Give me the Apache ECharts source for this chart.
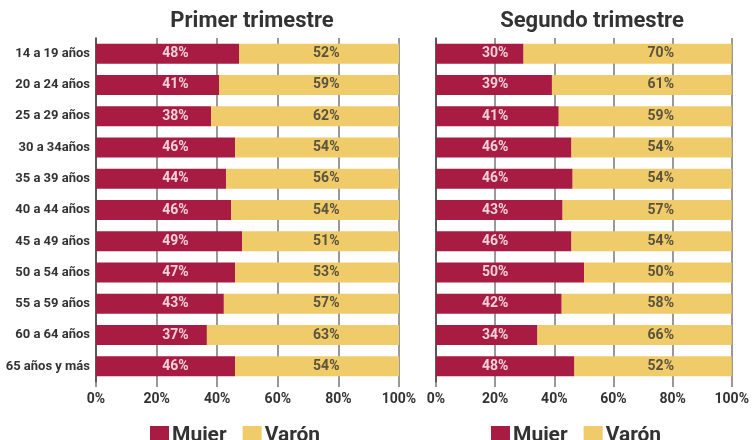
<!DOCTYPE html>
<html><head><meta charset="utf-8">
<script src="https://cdn.jsdelivr.net/npm/echarts@6/dist/echarts.min.js"></script>
<style>html,body{margin:0;padding:0;background:#fff}#c{width:752px;height:440px}</style>
</head><body><div id="c"></div>
<script>
const categories = ['14 a 19 años','20 a 24 años','25 a 29 años','30 a 34años','35 a 39 años','40 a 44 años','45 a 49 años','50 a 54 años','55 a 59 años','60 a 64 años','65 años y más'];
const panelTitles = ['Primer trimestre','Segundo trimestre'];
const seriesNames = ['Mujer','Varón'];
// bar lengths (%)
const mujerQ1 = [47.2,40.6,38.0,45.9,42.9,44.6,48.2,45.9,42.2,36.6,45.9];
const varonQ1 = [52.8,59.4,62.0,54.1,57.1,55.4,51.8,54.1,57.8,63.4,54.1];
const mujerQ2 = [29.6,39.2,41.5,45.8,46.2,42.8,45.8,50.1,42.5,34.3,46.8];
const varonQ2 = [70.4,60.8,58.5,54.2,53.8,57.2,54.2,49.9,57.5,65.7,53.2];
// printed labels (%)
const mujerQ1Lbl = [48,41,38,46,44,46,49,47,43,37,46];
const varonQ1Lbl = [52,59,62,54,56,54,51,53,57,63,54];
const mujerQ2Lbl = [30,39,41,46,46,43,46,50,42,34,48];
const varonQ2Lbl = [70,61,59,54,54,57,54,50,58,66,52];
// label anchor positions on the value axis (%)
const lblPosQ1 = [26.2, 76];
const lblPosQ2 = [20, 76];

const C_M = '#A81B42', C_V = '#F0CB6A';
const FONT = 'Roboto';
const chart = echarts.init(document.getElementById('c'), null, {renderer:'canvas'});

function xAxis(i){
  return {gridIndex:i, type:'value', min:0, max:100, interval:20,
    axisLine:{show:false},
    axisTick:{show:true, length:5, lineStyle:{color:'#777', width:1.5}},
    splitLine:{show:true, lineStyle:{color:'#777', width:1.5}},
    axisLabel:{formatter:'{value}%', margin:10, color:'#333', fontFamily:FONT, fontWeight:'bold', fontSize:14}};
}
function yAxis(i){
  return {gridIndex:i, type:'category', data:categories, inverse:true,
    axisLine:{show:true, lineStyle:{color:'#444', width:1.5}},
    axisTick:{show:false},
    axisLabel:{show:i===0, margin:6, color:'#333', fontFamily:FONT, fontWeight:'bold', fontSize:13}};
}
function bar(name, data, i, color){
  return {name, type:'bar', stack:'s'+i, xAxisIndex:i, yAxisIndex:i, data, barWidth:20,
    itemStyle:{color}, emphasis:{disabled:true}, silent:true};
}
function lbl(pos, labels, i, color){
  return {type:'scatter', xAxisIndex:i, yAxisIndex:i, symbolSize:0, z:5, silent:true,
    data: labels.map((v,k)=>[pos, categories[k], v]),
    label:{show:true, position:'inside', formatter:p=>p.data[2]+'%', color, fontFamily:FONT, fontWeight:'bold', fontSize:14}};
}
const legendCommon = {itemWidth:19, itemHeight:19, itemGap:16, icon:'rect', top:420, data:seriesNames,
  textStyle:{fontFamily:FONT, fontWeight:'bold', fontSize:21, color:'#333', padding:[0,0,0,-2]}, selectedMode:false};

chart.setOption({
  animation:false,
  title:[
    {text:panelTitles[0], left:247, top:5, textAlign:'center', textStyle:{fontFamily:FONT, fontWeight:'bold', fontSize:22, color:'#333'}},
    {text:panelTitles[1], left:587, top:5, textAlign:'center', textStyle:{fontFamily:FONT, fontWeight:'bold', fontSize:22, color:'#333'}}
  ],
  legend:[
    Object.assign({left:145}, legendCommon),
    Object.assign({left:486}, legendCommon)
  ],
  grid:[
    {left:96, width:303, top:38, bottom:58},
    {left:436, width:303, top:38, bottom:58}
  ],
  xAxis:[xAxis(0), xAxis(1)],
  yAxis:[yAxis(0), yAxis(1)],
  series:[
    bar(seriesNames[0], mujerQ1, 0, C_M),
    bar(seriesNames[1], varonQ1, 0, C_V),
    bar(seriesNames[0], mujerQ2, 1, C_M),
    bar(seriesNames[1], varonQ2, 1, C_V),
    lbl(lblPosQ1[0], mujerQ1Lbl, 0, '#fff'),
    lbl(lblPosQ1[1], varonQ1Lbl, 0, '#333'),
    lbl(lblPosQ2[0], mujerQ2Lbl, 1, '#fff'),
    lbl(lblPosQ2[1], varonQ2Lbl, 1, '#333')
  ]
});
</script></body></html>
